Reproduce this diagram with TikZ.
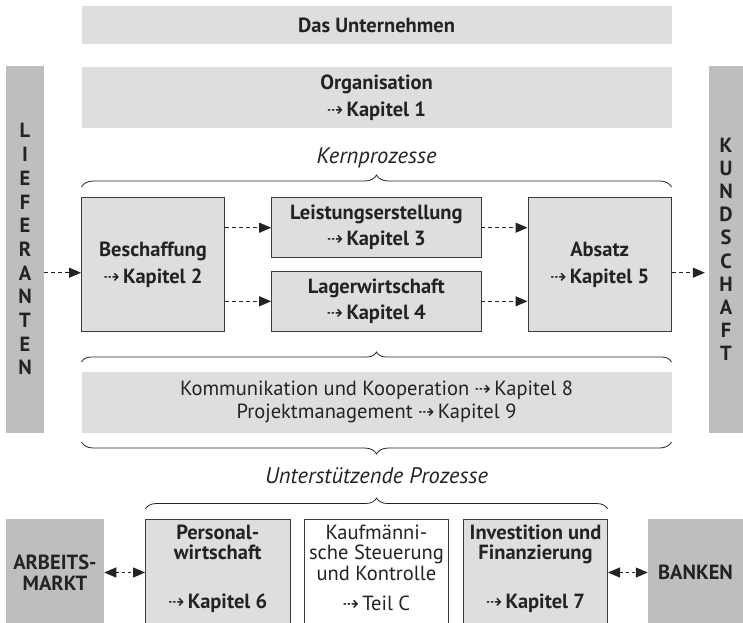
\documentclass[tikz,border=0pt]{standalone}
\usepackage{fontspec}
\setmainfont{PT Sans}
\newfontfamily\arrowfont{DejaVu Sans}
\usetikzlibrary{arrows.meta,decorations.pathreplacing}

\definecolor{boxgray}{RGB}{221,222,224}
\definecolor{bargray}{RGB}{190,190,192}
\definecolor{inkgray}{RGB}{35,35,35}
\definecolor{linegray}{RGB}{60,60,60}

\newcommand{\txt}{\fontsize{20.5}{26}\selectfont}
\newcommand{\dto}{{\arrowfont\mdseries\fontsize{19.5}{19.5}\selectfont ⇢}\,}

\def\bandLeft{81.5}
\def\bandRight{671.5}
\def\bandMid{376.5}
\def\bandWidth{590}
\def\lowTop{519}
\def\lowHeight{107}

\begin{document}
\begin{tikzpicture}[x=1pt,y=-1pt,
    every node/.style = {text = inkgray, inner sep = 0pt, align = center, font = \txt},
    band/.style = {fill = boxgray, minimum width = \bandWidth pt},
    procbox/.style = {fill = boxgray, draw = linegray, line width = 0.9pt},
    sidebar/.style = {fill = bargray},
    flow/.style = {draw = inkgray, line width = 1.2pt, dash pattern = on 4pt off 3pt,
        -{Triangle[length = 12pt, width = 10pt]}},
    twoway/.style = {draw = inkgray, line width = 1.2pt, dash pattern = on 3pt off 3pt,
        {Triangle[length = 12pt, width = 10pt]}-{Triangle[length = 12pt, width = 10pt]}},
    curly/.style = {draw = inkgray, line width = 0.8pt, decorate,
        decoration = {brace, amplitude = #1}},
    ]
    \useasboundingbox (0,0) rectangle (743,622);

    %% top bands
    \node [band, minimum height = 38pt, font = \txt\bfseries]
        (unternehmen) at (\bandMid,25) {Das Unternehmen};
    \node [band, minimum height = 61pt, font = \fontsize{20.5}{27}\selectfont\bfseries]
        (organisation) at (\bandMid,97.5) {Organisation\\\dto Kapitel 1};

    %% side bars
    \node [sidebar, minimum width = 38pt, minimum height = 366.7pt,
        font = \fontsize{20.5}{23.7}\selectfont\bfseries]
        (lieferanten) at (25,249.3) {L\\I\\E\\F\\E\\R\\A\\N\\T\\E\\N};
    \node [sidebar, minimum width = 34pt, minimum height = 366.7pt,
        font = \fontsize{20.5}{23.2}\selectfont\bfseries]
        (kundschaft) at (726,249.3) {K\\U\\N\\D\\S\\C\\H\\A\\F\\T};

    %% core processes
    \node [font = \fontsize{22.5}{26}\selectfont\itshape] (kernLabel) at (\bandMid,158)
        {Kernprozesse};
    \draw [curly = 12pt] (\bandLeft,187) -- (\bandRight,187);

    \node [procbox, minimum width = 143pt, minimum height = 134pt,
        font = \fontsize{20.5}{27}\selectfont\bfseries]
        (beschaffung) at (153,264.7) {Beschaffung\\\dto Kapitel 2};
    \node [procbox, minimum width = 209.4pt, minimum height = 60pt, font = \txt\bfseries]
        (leistung) at (376.3,227.7) {Leistungserstellung\\\dto Kapitel 3};
    \node [procbox, minimum width = 209.4pt, minimum height = 60.7pt, font = \txt\bfseries]
        (lager) at (376.3,301.3) {Lagerwirtschaft\\\dto Kapitel 4};
    \node [procbox, minimum width = 143.5pt, minimum height = 134pt,
        font = \fontsize{20.5}{27}\selectfont\bfseries]
        (absatz) at (599.7,264.7) {Absatz\\\dto Kapitel 5};

    \draw [flow] ([yshift = -8pt]lieferanten.east |- beschaffung.west)
        -- ([yshift = -8pt]beschaffung.west);
    \draw [flow] (beschaffung.east |- leistung.west) -- (leistung.west);
    \draw [flow] (beschaffung.east |- lager.west) -- (lager.west);
    \draw [flow] (leistung.east) -- (absatz.west |- leistung.east);
    \draw [flow] (lager.east) -- (absatz.west |- lager.east);
    \draw [flow, shorten > = 4pt] ([yshift = -8pt]absatz.east)
        -- ([yshift = -8pt]kundschaft.west |- absatz.east);

    %% supporting processes
    \draw [curly = 10pt] (\bandLeft,362) -- (\bandRight,362);
    \node [band, minimum height = 60.7pt, font = \fontsize{20.5}{23}\selectfont]
        (kommunikation) at (\bandMid,402.3)
        {Kommunikation und Kooperation \dto Kapitel 8\\Projektmanagement \dto Kapitel 9};
    \draw [curly = 12pt] (\bandRight,442) -- (\bandLeft,442);
    \node [font = \fontsize{22.5}{26}\selectfont\itshape] (unterstLabel) at (\bandMid,476)
        {Unterstützende Prozesse};
    \draw [curly = 11pt] (145.5,509) -- (607.6,509);

    %% bottom row
    \node [sidebar, minimum width = 98.3pt, minimum height = \lowHeight pt,
        font = \fontsize{20.5}{21}\selectfont\bfseries]
        (arbeitsmarkt) at (54.9,572.5) {ARBEITS-\\MARKT};
    \node [procbox, minimum width = 144.5pt, minimum height = \lowHeight pt]
        (personal) at (217.75,572.5) {};
    \node [procbox, fill = white, minimum width = 143.3pt, minimum height = \lowHeight pt]
        (kaufmann) at (376.4,572.5) {};
    \node [procbox, minimum width = 144.1pt, minimum height = \lowHeight pt]
        (investition) at (535.5,572.5) {};
    \node [sidebar, minimum width = 95pt, minimum height = \lowHeight pt,
        font = \txt\bfseries]
        (banken) at (695.5,572.5) {BANKEN};

    \node [anchor = north, font = \fontsize{20.5}{20.5}\selectfont\bfseries]
        (personalName) at ([yshift = -6pt]personal.north) {Personal-\\wirtschaft};
    \node [font = \txt\bfseries]
        (personalRef) at ([yshift = -30.5pt]personal.center) {\dto Kapitel 6};
    \node [anchor = north, font = \fontsize{20.5}{20.5}\selectfont]
        (kaufmannName) at ([yshift = -6pt]kaufmann.north)
        {Kaufmänni-\\sche Steuerung\\und Kontrolle};
    \node [font = \txt]
        (kaufmannRef) at ([yshift = -30.5pt]kaufmann.center) {\dto Teil C};
    \node [anchor = north, font = \fontsize{20.5}{20.5}\selectfont\bfseries]
        (investitionName) at ([yshift = -6pt]investition.north)
        {Investition und\\Finanzierung};
    \node [font = \txt\bfseries]
        (investitionRef) at ([yshift = -30.5pt]investition.center) {\dto Kapitel 7};

    \draw [twoway] (arbeitsmarkt.east) -- (personal.west);
    \draw [twoway] (investition.east) -- (banken.west);
\end{tikzpicture}
\end{document}
